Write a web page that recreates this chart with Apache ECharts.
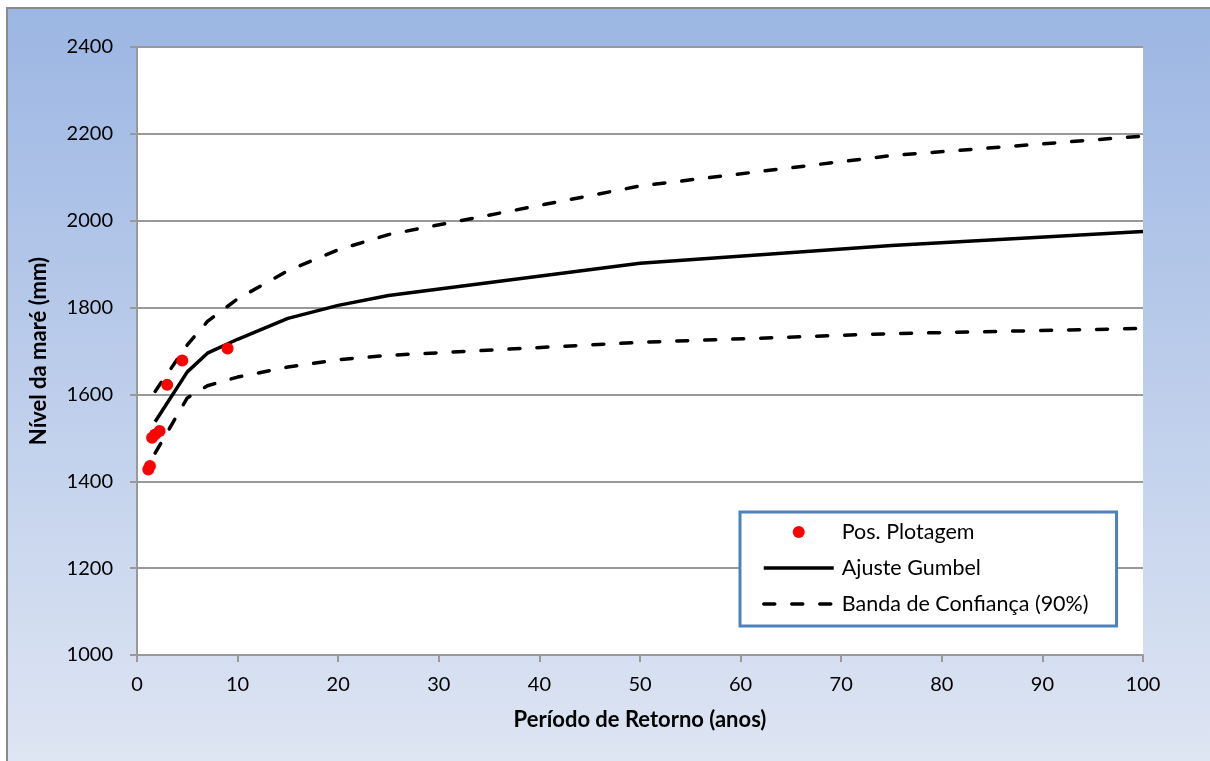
<!DOCTYPE html>
<html>
<head>
<meta charset="utf-8">
<script src="https://cdn.jsdelivr.net/npm/echarts@6/dist/echarts.min.js"></script>
<style>
  html, body { margin: 0; padding: 0; background: #fff; }
  #chart { width: 1210px; height: 761px; }
</style>
</head>
<body>
<div id="chart"></div>
<script>
// Posições de plotagem observadas (período de retorno, nível)
const periodosObs = [1.125, 1.286, 1.5, 1.8, 2.25, 3, 4.5, 9];
const niveisObs   = [1427, 1435, 1500, 1508, 1516, 1622, 1678, 1706];

// Curva de ajuste de Gumbel e banda de confiança de 90%
const periodosAjuste = [1.8, 5, 7, 10, 15, 20, 25, 50, 75, 100];
const ajusteGumbel   = [1537, 1652, 1695, 1727, 1775, 1805, 1828, 1902, 1943, 1975];
const bandaSuperior  = [1607, 1714, 1768, 1820, 1885, 1933, 1968, 2080, 2150, 2195];
const bandaInferior  = [1465, 1592, 1620, 1640, 1663, 1680, 1690, 1720, 1740, 1752];

// Escalas dos eixos
const eixoX = { min: 0, max: 100, intervalo: 10 };
const eixoY = { min: 1000, max: 2400, intervalo: 200 };

const pares = (xs, ys) => xs.map((x, i) => [x, ys[i]]);

const fonte = 'Lato, "Open Sans", sans-serif';
const cinza = '#999999';
const espessura = 3.5;
const tracejado = { width: espessura, color: '#000', type: [11, 17], cap: 'round', join: 'round' };
// ícone da legenda só com a linha, sem marcador
const semMarcador = { opacity: 0, color: 'rgba(0,0,0,0)', borderWidth: 0 };

const chart = echarts.init(document.getElementById('chart'), null, { renderer: 'canvas' });

chart.setOption({
  animation: false,
  backgroundColor: '#ffffff',
  graphic: {
    elements: [{
      type: 'rect',
      z: -10,
      silent: true,
      shape: { x: 7, y: 8, width: 1215, height: 765 },
      style: {
        fill: new echarts.graphic.LinearGradient(0, 0, 0, 1, [
          { offset: 0, color: '#9cb6e3' },
          { offset: 1, color: '#dfe6f3' }
        ]),
        stroke: '#8a8a8a',
        lineWidth: 2
      }
    }]
  },
  grid: {
    left: 137, right: 67, top: 47, bottom: 106,
    show: true, backgroundColor: '#ffffff', borderWidth: 0
  },
  legend: {
    orient: 'vertical',
    left: 740, top: 512,
    itemWidth: 70, itemHeight: 12, itemGap: 14,
    padding: [9, 28, 11, 22],
    backgroundColor: '#ffffff',
    borderColor: '#4f81bd', borderWidth: 3, borderRadius: 0,
    selectedMode: false,
    lineStyle: { width: espessura },
    textStyle: { fontFamily: fonte, fontSize: 21.5, color: '#000', lineHeight: 22, padding: [0, 0, 0, 3] },
    data: [
      { name: 'Pos. Plotagem', icon: 'circle' },
      { name: 'Ajuste Gumbel', itemStyle: semMarcador },
      { name: 'Banda de Confiança (90%)', itemStyle: semMarcador }
    ]
  },
  xAxis: {
    type: 'value',
    min: eixoX.min, max: eixoX.max, interval: eixoX.intervalo,
    name: 'Período de Retorno (anos)',
    nameLocation: 'middle', nameGap: 54,
    nameTextStyle: { fontFamily: fonte, fontSize: 22, fontWeight: 'bold', color: '#000' },
    axisLine: { show: true, onZero: false, lineStyle: { color: cinza, width: 2 } },
    axisTick: { show: true, length: 7, lineStyle: { color: cinza, width: 2 } },
    axisLabel: { fontFamily: fonte, fontSize: 20, color: '#000', margin: 20 },
    splitLine: { show: false }
  },
  yAxis: {
    type: 'value',
    min: eixoY.min, max: eixoY.max, interval: eixoY.intervalo,
    name: 'Nível da maré (mm)',
    nameLocation: 'middle', nameGap: 87, nameRotate: 90,
    nameTextStyle: { fontFamily: fonte, fontSize: 22, fontWeight: 'bold', color: '#000' },
    axisLine: { show: true, lineStyle: { color: cinza, width: 2 } },
    axisTick: { show: true, length: 7, lineStyle: { color: cinza, width: 2 } },
    axisLabel: { fontFamily: fonte, fontSize: 20, color: '#000', margin: 24, formatter: (v) => String(v) },
    splitLine: { show: true, lineStyle: { color: cinza, width: 2 } }
  },
  series: [
    {
      name: 'Banda de Confiança (90%)',
      type: 'line',
      data: pares(periodosAjuste, bandaSuperior),
      symbol: 'none', showSymbol: false,
      lineStyle: tracejado,
      itemStyle: { color: '#000' },
      z: 3
    },
    {
      name: 'Banda de Confiança (90%)',
      type: 'line',
      data: pares(periodosAjuste, bandaInferior),
      symbol: 'none', showSymbol: false,
      lineStyle: tracejado,
      itemStyle: { color: '#000' },
      z: 3
    },
    {
      name: 'Ajuste Gumbel',
      type: 'line',
      data: pares(periodosAjuste, ajusteGumbel),
      symbol: 'none', showSymbol: false,
      lineStyle: { width: espessura, color: '#000', join: 'round' },
      itemStyle: { color: '#000' },
      z: 3
    },
    {
      name: 'Pos. Plotagem',
      type: 'scatter',
      data: pares(periodosObs, niveisObs),
      symbol: 'circle', symbolSize: 12,
      itemStyle: { color: '#ff0000', opacity: 1 },
      z: 4
    }
  ]
});
</script>
</body>
</html>
